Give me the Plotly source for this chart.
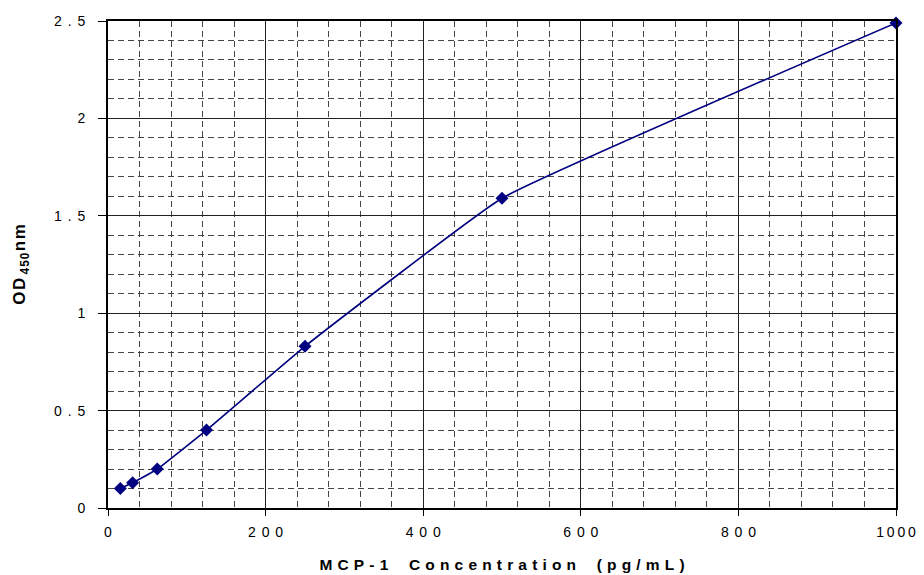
import plotly.graph_objects as go

conc = [15.6, 31.25, 62.5, 125, 250, 500, 1000]
od = [0.10, 0.13, 0.20, 0.40, 0.83, 1.59, 2.49]

G = "\u2004\u200a"
x_tickvals = [0, 200, 400, 600, 800, 1000]
x_ticktext = ["0", G.join("200"), G.join("400"), G.join("600"), G.join("800"), "\u2009".join("1000")]
y_tickvals = [0, 0.5, 1, 1.5, 2, 2.5]
y_ticktext = ["0", G.join("0.5"), "1", G.join("1.5"), "2", G.join("2.5")]

T = "\u2004"
x_title = (T * 4).join(T.join(w) for w in ["MCP-1", "Concentration", "(pg/mL)"])
y_title = "O\u200aD\u2009<sub>4\u200a5\u200a0</sub>\u200an\u200am"

navy = "#000080"

fig = go.Figure()
fig.add_trace(go.Scatter(
    x=conc, y=od, mode="lines+markers",
    line=dict(color=navy, width=1.6, shape="spline", smoothing=0.3),
    marker=dict(symbol="diamond", size=10, color=navy),
    showlegend=False, cliponaxis=False,
))

font = dict(family="Liberation Sans, Arial, sans-serif", size=14, color="black")

fig.update_layout(
    width=916, height=567,
    margin=dict(l=100, r=28, t=13, b=67),
    paper_bgcolor="white", plot_bgcolor="white",
    font=font,
    xaxis=dict(
        range=[0, 1000], tickvals=x_tickvals, ticktext=x_ticktext,
        automargin=False, ticklabeloverflow="allow", ticklabelstandoff=4,
        showline=True, linecolor="black", linewidth=2, mirror=True,
        ticks="outside", ticklen=6, tickcolor="black",
        showgrid=True, gridcolor="#222222", gridwidth=1,
        minor=dict(dtick=40, showgrid=True, gridcolor="#444444", griddash="6px,4px", gridwidth=1),
        zeroline=False,
        title=dict(text="<b>" + x_title + "</b>", font=dict(size=15.5), standoff=20),
    ),
    yaxis=dict(
        range=[0, 2.5], tickvals=y_tickvals, ticktext=y_ticktext,
        automargin=False, ticklabelstandoff=10,
        showline=True, linecolor="black", linewidth=2, mirror=True,
        ticks="outside", ticklen=8, tickcolor="black",
        showgrid=True, gridcolor="#222222", gridwidth=1,
        minor=dict(dtick=0.1, showgrid=True, gridcolor="#444444", griddash="6px,4px", gridwidth=1),
        zeroline=False,
        title=dict(text="<b>" + y_title + "</b>", font=dict(size=17), standoff=24),
    ),
)

fig.write_html("out.html")
